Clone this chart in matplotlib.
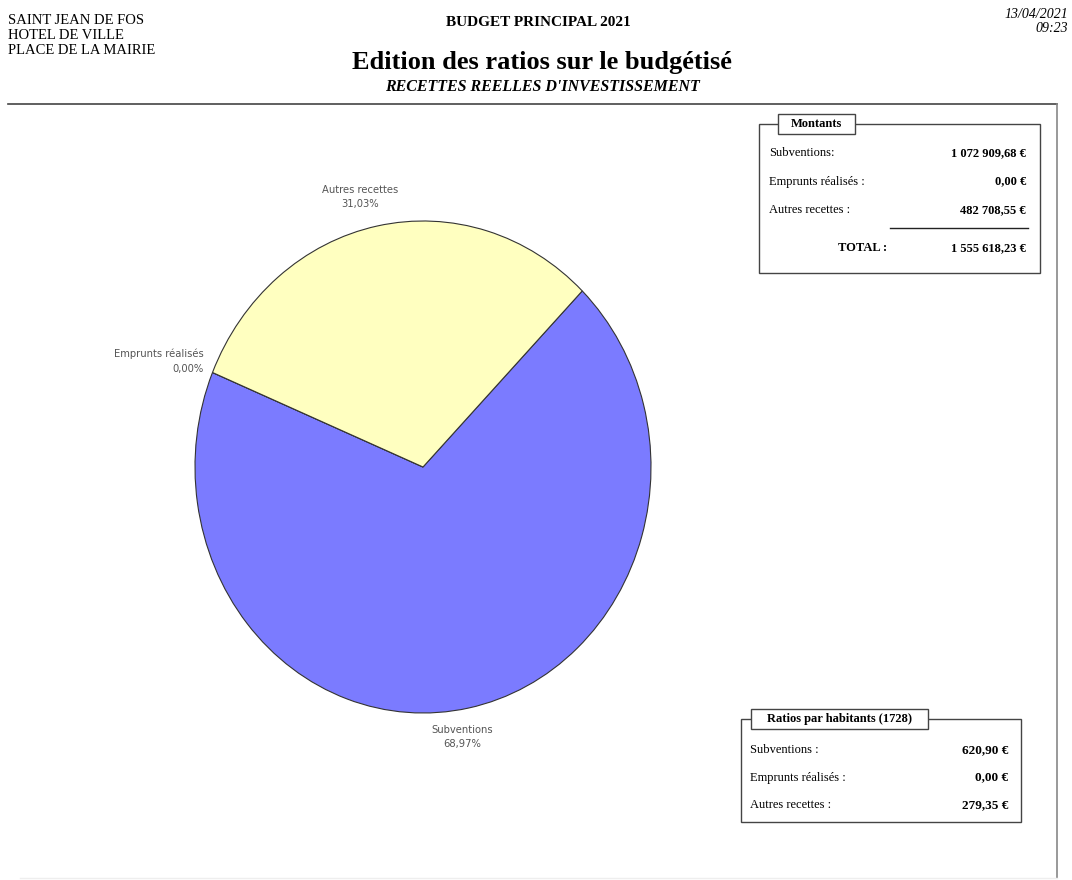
import matplotlib
matplotlib.use("Agg")
import matplotlib.pyplot as plt
import numpy as np
from matplotlib.patches import Rectangle

categories = ["Subventions", "Emprunts réalisés", "Autres recettes"]
montants = [1072909.68, 0.00, 482708.55]
ratios = [620.90, 0.00, 279.35]
population = 1728
colors = ["#7b7bff", "#7b7bff", "#ffffc0"]

W, H = 1072, 880
SERIF = ["Liberation Serif", "DejaVu Serif"]


def fr(value):
    s = f"{value:,.2f}"
    return s.replace(",", " ").replace(".", ",")


fig = plt.figure(figsize=(W / 100, H / 100), dpi=100)

# pie: ellipse centred on (423, 467) px, radii 228 x 246 px
cx, cy, rx, ry = 423, 467, 228, 246
pax = fig.add_axes([(cx - rx) / W, (H - cy - ry) / H, 2 * rx / W, 2 * ry / H])
wedges, _ = pax.pie(montants, colors=colors, startangle=45.7, counterclock=False,
                    wedgeprops=dict(edgecolor="#333333", linewidth=0.8))
pax.set_aspect("auto")
pax.set_xlim(-1, 1)
pax.set_ylim(-1, 1)
pax.axis("off")

total = sum(montants)
for w, cat, v in zip(wedges, categories, montants):
    mid = np.deg2rad((w.theta1 + w.theta2) / 2)
    c, s = np.cos(mid), np.sin(mid)
    pct = f"{v / total * 100:.2f}".replace(".", ",") + "%"
    if c < -0.5:
        xy, ha, dx = (1.04 * c, 1.12 * s), "right", 0
    else:
        xy, ha, dx = (1.12 * c, 1.12 * s), "center", -12
    pax.annotate(f"{cat}\n{pct}", xy, xytext=(dx, 0), textcoords="offset pixels",
                 ha=ha, va="center", fontsize=7.2, color="#555555",
                 linespacing=1.6, annotation_clip=False, family="DejaVu Sans")

# overlay in pixel coordinates
ax = fig.add_axes([0, 0, 1, 1])
ax.set_xlim(0, W)
ax.set_ylim(H, 0)
ax.axis("off")
ax.patch.set_alpha(0)

for i, line in enumerate(["SAINT JEAN DE FOS", "HOTEL DE VILLE", "PLACE DE LA MAIRIE"]):
    ax.text(8, 21 + i * 14.5, line, fontsize=10.5, family=SERIF, va="center")
ax.text(538, 22, "BUDGET PRINCIPAL 2021", fontsize=11, family=SERIF,
        weight="bold", ha="center", va="center")
ax.text(542, 63, "Edition des ratios sur le budgétisé", fontsize=19, family=SERIF,
        weight="bold", ha="center", va="center")
ax.text(542, 87, "RECETTES REELLES D'INVESTISSEMENT", fontsize=11.5, family=SERIF,
        weight="bold", style="italic", ha="center", va="center")
ax.text(1068, 14, "13/04/2021", fontsize=10, family=SERIF, style="italic",
        ha="right", va="center")
ax.text(1068, 29, "09:23", fontsize=10, family=SERIF, style="italic",
        ha="right", va="center")

# page frame
ax.plot([8, 1057], [104, 104], color="#444444", lw=1.2)
ax.plot([1057, 1057], [104, 878], color="#888888", lw=1.2)
ax.plot([20, 1057], [878, 878], color="#eeeeee", lw=1)


def box(x0, y0, x1, y1, title, tx0, tx1):
    ax.add_patch(Rectangle((x0, y0), x1 - x0, y1 - y0, fill=False,
                           edgecolor="#444444", lw=1))
    ax.add_patch(Rectangle((tx0, y0 - 10), tx1 - tx0, 20, facecolor="white",
                           edgecolor="#444444", lw=1))
    ax.text((tx0 + tx1) / 2, y0, title, fontsize=9, family=SERIF, weight="bold",
            ha="center", va="center")


# Montants box
box(759, 124, 1040, 273, "Montants", 778, 855)
mlabels = ["Subventions:", "Emprunts réalisés :", "Autres recettes :"]
for i, (lab, v) in enumerate(zip(mlabels, montants)):
    yy = 153 + i * 28.5
    ax.text(769, yy, lab, fontsize=9, family=SERIF, va="center")
    ax.text(1026, yy, fr(v) + " €", fontsize=9, family=SERIF, weight="bold",
            ha="right", va="center")
ax.plot([890, 1028], [228, 228], color="#222222", lw=1)
ax.text(838, 248, "TOTAL :", fontsize=9, family=SERIF, weight="bold", va="center")
ax.text(1026, 248, fr(total) + " €", fontsize=9, family=SERIF, weight="bold",
        ha="right", va="center")

# Ratios box
box(741, 719, 1021, 822, f"Ratios par habitants ({population})", 751, 928)
rlabels = ["Subventions :", "Emprunts réalisés :", "Autres recettes :"]
for i, (lab, v) in enumerate(zip(rlabels, ratios)):
    yy = 750 + i * 27.5
    ax.text(750, yy, lab, fontsize=9, family=SERIF, va="center")
    ax.text(1008, yy, fr(v) + " €", fontsize=9.5, family=SERIF, weight="bold",
            ha="right", va="center")

fig.savefig("out.png", dpi=100)
